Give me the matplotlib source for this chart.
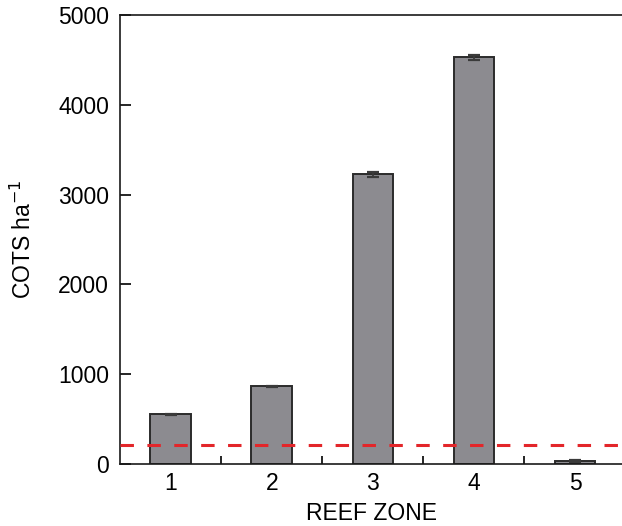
import numpy as np
import matplotlib.pyplot as plt

plt.rcParams['font.family'] = ['Liberation Sans', 'DejaVu Sans']

zones = [1, 2, 3, 4, 5]
cots = [553, 866, 3230, 4530, 37]
err = [8, 8, 28, 30, 12]
threshold = 215

fig = plt.figure(figsize=(6.22, 5.26), dpi=100)
ax = fig.add_axes([0.193, 0.118, 0.807, 0.853])

ax.bar(zones, cots, width=0.4, color='#8c8b90', edgecolor='#2b2b2b', linewidth=1.4,
       yerr=err, capsize=4, error_kw=dict(ecolor='#3a3a3a', elinewidth=1.3, capthick=1.6), zorder=2)
ax.axhline(threshold, color='#e3262a', linewidth=2.2, dashes=(4.4, 4.4), zorder=3)

ax.set_xlim(0.5, 5.465)
ax.set_ylim(0, 5000)
ax.set_yticks(np.arange(0, 5001, 1000))
ax.set_xticks(zones)
ax.set_xticks([1.5, 2.5, 3.5, 4.5], minor=True)

ax.spines['right'].set_visible(False)
for s in ['left', 'bottom', 'top']:
    ax.spines[s].set_linewidth(1.2)
    ax.spines[s].set_color('#1a1a1a')

ax.tick_params(axis='y', direction='in', length=8, width=1.2, labelsize=16.5, pad=8)
ax.tick_params(axis='x', which='major', length=0, labelsize=16.5, pad=6)
ax.tick_params(axis='x', which='minor', direction='in', length=6, width=1.2)

ax.set_xlabel('REEF ZONE', fontsize=16.5, labelpad=5)
ax.set_ylabel('COTS ha$^{-1}$', fontsize=16.5, labelpad=16)

fig.savefig('out.png', dpi=100)
